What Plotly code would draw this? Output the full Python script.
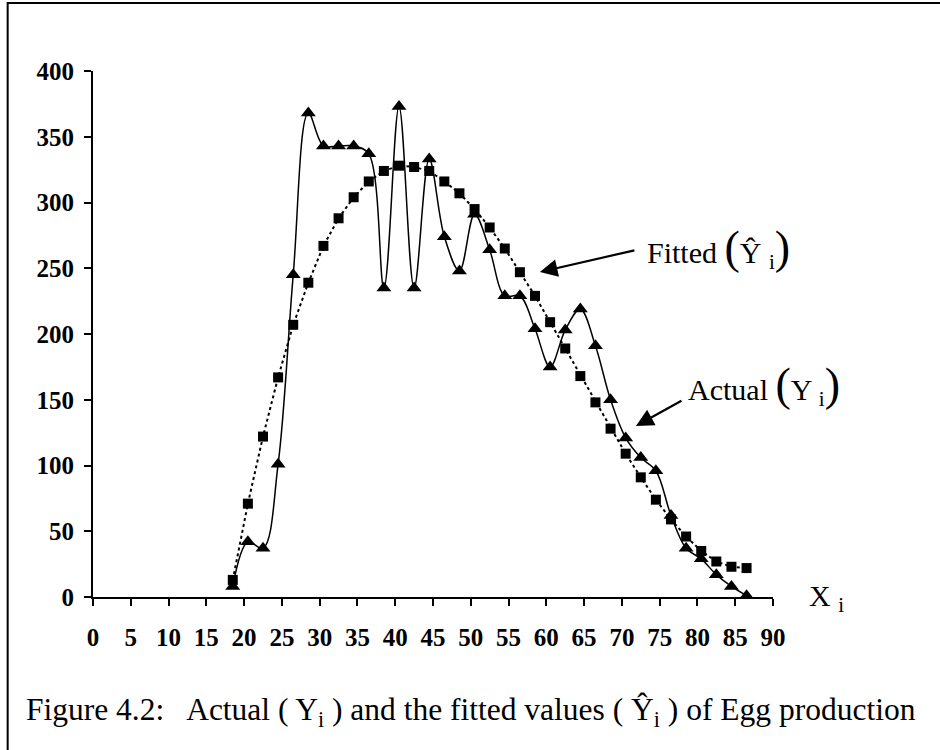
import plotly.graph_objects as go

age = [18.5, 20.5, 22.5, 24.5, 26.5, 28.5, 30.5, 32.5, 34.5, 36.5, 38.5, 40.5,
       42.5, 44.5, 46.5, 48.5, 50.5, 52.5, 54.5, 56.5, 58.5, 60.5, 62.5, 64.5,
       66.5, 68.5, 70.5, 72.5, 74.5, 76.5, 78.5, 80.5, 82.5, 84.5, 86.5]

actual = [8, 42, 37, 101, 245, 368, 343, 343, 343, 337, 235, 373,
          235, 333, 274, 248, 291, 264, 229, 229, 204, 175, 203, 219,
          191, 150, 121, 106, 96, 62, 37, 29, 17, 8, 1]

fitted = [13, 71, 122, 167, 207, 239, 267, 288, 304, 316, 324, 328,
          327, 324, 316, 307, 295, 281, 265, 247, 229, 209, 189, 168,
          148, 128, 109, 91, 74, 59, 46, 35, 27, 23, 22]

x_ticks = list(range(0, 95, 5))
y_ticks = list(range(0, 450, 50))

SERIF = "Liberation Serif, Times New Roman, serif"

fig = go.Figure()
fig.add_trace(go.Scatter(
    x=age, y=fitted, mode="lines+markers", name="Fitted",
    line=dict(color="black", width=2, dash="dot"),
    marker=dict(symbol="square", size=10, color="black"),
))
fig.add_trace(go.Scatter(
    x=age, y=actual, mode="lines+markers", name="Actual",
    line=dict(color="black", width=1.5, shape="spline", smoothing=1),
    marker=dict(symbol="triangle-up", size=13, color="black"),
))

fig.update_layout(
    width=940, height=750,
    margin=dict(l=93, r=167, t=71, b=153, autoexpand=False),
    paper_bgcolor="white", plot_bgcolor="white",
    showlegend=False,
    font=dict(family=SERIF, color="black"),
)
fig.update_xaxes(
    range=[0, 90], tickvals=x_ticks, ticktext=[str(v) for v in x_ticks],
    showgrid=False, zeroline=False, showline=True, linecolor="black", linewidth=2,
    ticks="outside", ticklen=7, tickwidth=2, tickcolor="black",
    tickfont=dict(family=SERIF, size=25, color="black", weight="bold"),
    ticklabelstandoff=10, automargin=False,
)
fig.update_yaxes(
    range=[0, 400], tickvals=y_ticks, ticktext=[str(v) for v in y_ticks],
    showgrid=False, zeroline=False, showline=True, linecolor="black", linewidth=2,
    ticks="outside", ticklen=7, tickwidth=2, tickcolor="black",
    tickfont=dict(family=SERIF, size=25, color="black", weight="bold"),
    ticklabelstandoff=5, automargin=False,
)

def px_x(p):
    return (p - 93.3) / 679.7

def px_y(p):
    return (597 - p) / 526

# frame around the figure
fig.add_shape(type="rect", xref="paper", yref="paper",
              x0=px_x(8), x1=px_x(960), y0=px_y(3), y1=px_y(780),
              line=dict(color="black", width=2), layer="below")

# arrows (head at x,y; tail offset in pixels)
fig.add_annotation(x=px_x(540), y=px_y(272), xref="paper", yref="paper",
                   ax=636 - 540, ay=250 - 272, axref="pixel", ayref="pixel",
                   text="", showarrow=True, arrowhead=2, arrowsize=1.6,
                   arrowwidth=2.2, arrowcolor="black")
fig.add_annotation(x=px_x(636), y=px_y(426), xref="paper", yref="paper",
                   ax=683 - 636, ay=400 - 426, axref="pixel", ayref="pixel",
                   text="", showarrow=True, arrowhead=2, arrowsize=1.6,
                   arrowwidth=2.2, arrowcolor="black")

big = '<span style="font-size:46px">%s</span>'
fig.add_annotation(x=px_x(645), y=px_y(248), xref="paper", yref="paper",
                   xanchor="left", yanchor="middle", showarrow=False,
                   text="Fitted " + big % "(" + "Ŷ <sub>i</sub>" + big % ")",
                   font=dict(family=SERIF, size=30, color="black"))
fig.add_annotation(x=px_x(686), y=px_y(385), xref="paper", yref="paper",
                   xanchor="left", yanchor="middle", showarrow=False,
                   text="Actual " + big % "(" + "Y <sub>i</sub>" + big % ")",
                   font=dict(family=SERIF, size=30, color="black"))
fig.add_annotation(x=px_x(807), y=px_y(598), xref="paper", yref="paper",
                   xanchor="left", yanchor="middle", showarrow=False,
                   text="X <sub>i</sub>",
                   font=dict(family=SERIF, size=30, color="black"))

fig.add_annotation(x=px_x(24), y=px_y(712), xref="paper", yref="paper",
                   xanchor="left", yanchor="middle", showarrow=False,
                   text="Figure 4.2:   Actual ( Y<sub>i</sub> ) and the fitted values ( Ŷ<sub>i</sub> ) of Egg production",
                   font=dict(family=SERIF, size=31.5, color="black"))

fig.write_html("out.html", config={"displayModeBar": False},
               post_script="document.body.style.margin='0px';")
